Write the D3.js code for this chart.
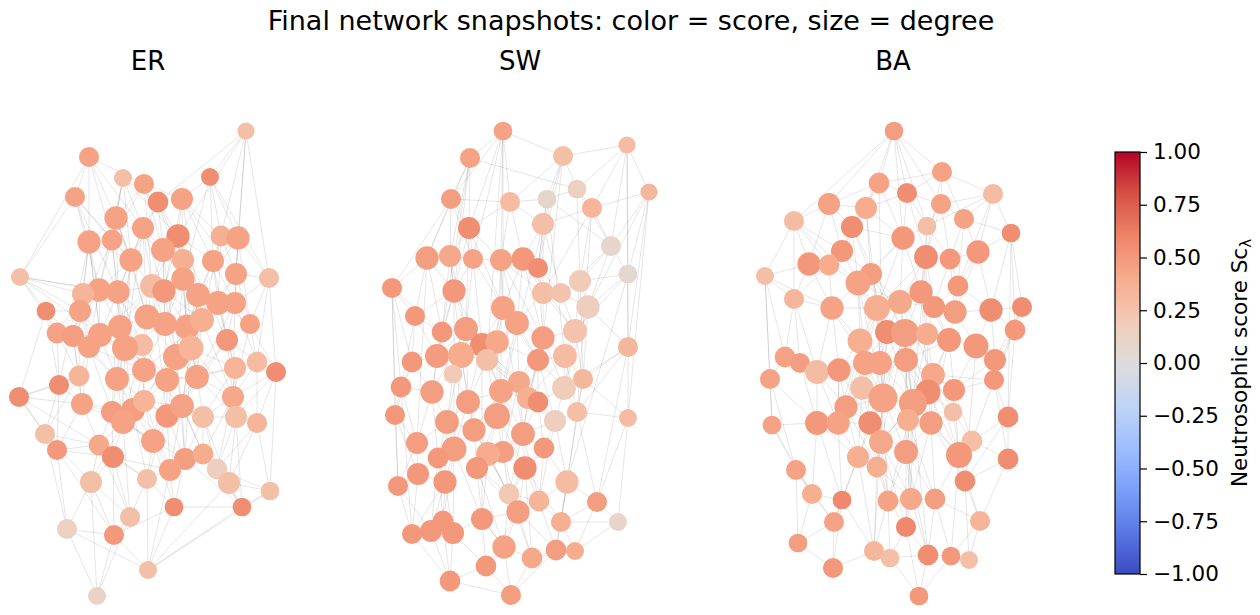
<!DOCTYPE html>
<html><head><meta charset="utf-8">
<script src="https://cdn.jsdelivr.net/npm/d3@7"></script>
<style>
html,body{margin:0;padding:0;background:#fff;}
svg{display:block;font-family:"DejaVu Sans",sans-serif;}
</style></head>
<body>
<svg id="chart" width="1260" height="615"></svg>
<script>
// ---------- DATA (layout coordinates per panel, score, degree) ----------
const panelNames = ["ER", "SW", "BA"];
const chartTitle = "Final network snapshots: color = score, size = degree";
const cbarTicks = [-1, -0.75, -0.5, -0.25, 0, 0.25, 0.5, 0.75, 1];
const cbarLabel = "Neutrosophic score Sc";
const cbarSub = "\u03bb";
const coolwarm = ["#3b4cc0","#5a78e4","#7b9ff9","#9ebeff","#c0d4f5","#dddcdc","#f2cbb7","#f7ac8e","#ee8468","#d65244","#b40426"];

// [x, y, score, degree]
const erNodes = [
[246,131,.28,6],[89,157,.45,10],[123,178,.28,7],[144,184,.45,10],[210,177,.55,7],[75,197,.45,10],
[158,202,.55,11],[182,199,.45,13],[116,218,.45,15],[143,228,.45,13],[89,242,.45,15],[112,240,.45,11],
[178,236,.55,15],[163,250,.45,16],[221,236,.38,11],[238,238,.45,15],[131,260,.45,15],[183,260,.38,13],
[213,261,.45,13],[236,274,.45,13],[269,278,.28,10],[20,277,.28,7],[183,279,.45,15],[152,286,.3,16],
[164,291,.5,15],[99,290,.45,15],[118,292,.45,15],[83,294,.35,13],[198,295,.45,16],[218,303,.45,16],
[235,303,.45,13],[46,311,.55,8],[80,311,.45,13],[147,317,.45,18],[165,324,.45,16],[187,327,.45,18],
[202,320,.38,16],[250,324,.45,10],[57,333,.45,11],[73,336,.47,13],[100,335,.45,16],[120,327,.45,16],
[142,345,.3,13],[89,347,.45,13],[125,348,.45,20],[176,357,.45,20],[191,348,.35,18],[227,340,.5,13],
[257,362,.3,11],[276,372,.55,10],[235,368,.35,13],[79,376,.35,11],[59,385,.55,10],[117,379,.45,16],
[144,370,.45,16],[167,380,.45,16],[197,377,.45,16],[19,397,.55,10],[82,404,.45,13],[233,397,.42,13],
[112,412,.47,13],[133,410,.47,16],[144,401,.35,13],[123,422,.45,16],[167,416,.5,15],[182,406,.45,16],
[203,417,.28,13],[236,417,.28,13],[257,423,.35,10],[45,434,.28,10],[57,450,.5,10],[99,445,.42,11],
[113,457,.55,13],[153,441,.45,16],[185,459,.47,13],[203,454,.4,11],[170,470,.45,13],[217,469,.16,11],
[229,483,.28,13],[270,491,.28,8],[91,482,.28,13],[147,479,.28,10],[174,507,.55,8],[242,507,.55,8],
[130,517,.28,10],[67,529,.14,10],[114,535,.5,10],[148,570,.28,7],[97,596,.12,7]
];
const swNodes = [
[128,131,.45,8],[95,158,.45,10],[188,156,.28,10],[252,145,.3,6],[76,199,.47,10],[135,202,.3,10],
[172,199,.08,8],[202,189,.14,8],[217,208,.35,10],[274,192,.33,6],[94,228,.55,13],[168,224,.28,13],
[236,246,.08,10],[52,258,.47,15],[75,256,.42,13],[98,259,.45,10],[126,260,.45,13],[148,259,.5,15],
[163,268,.55,10],[253,274,.06,8],[17,288,.5,10],[79,291,.5,15],[168,293,.28,13],[186,293,.25,10],
[205,281,.2,13],[213,307,.16,15],[40,316,.5,10],[128,308,.45,16],[142,323,.45,16],[200,331,.25,16],
[67,332,.5,11],[91,329,.47,16],[107,345,.55,16],[122,342,.42,15],[168,338,.47,15],[253,347,.33,10],
[37,362,.5,11],[62,356,.48,16],[86,355,.4,20],[112,360,.28,13],[163,360,.5,13],[190,356,.3,16],
[78,374,.2,8],[144,382,.42,13],[208,379,.33,10],[26,387,.5,11],[57,392,.47,15],[126,391,.45,16],
[189,388,.18,16],[153,398,.38,13],[93,402,.47,16],[163,402,.55,11],[20,415,.5,10],[122,416,.47,20],
[180,421,.16,13],[202,412,.28,10],[253,418,.3,7],[72,422,.47,16],[99,430,.47,15],[148,434,.47,16],
[42,443,.47,13],[79,449,.47,18],[128,452,.47,13],[113,454,.4,16],[169,448,.5,11],[63,458,.5,11],
[102,468,.5,13],[150,468,.55,15],[43,474,.5,13],[70,482,.5,15],[192,482,.3,15],[23,486,.5,10],
[134,494,.22,11],[164,501,.35,11],[222,502,.47,10],[143,512,.47,15],[107,519,.5,13],[186,522,.38,10],
[243,522,.1,7],[68,521,.5,11],[37,534,.5,10],[56,531,.5,13],[78,533,.5,13],[129,547,.45,15],
[181,550,.47,11],[200,551,.4,7],[157,558,.42,11],[111,566,.5,11],[75,581,.5,11],[136,595,.47,10]
];
const baNodes = [
[144,131,.47,8],[192,172,.45,10],[129,183,.45,11],[157,193,.55,10],[243,194,.3,10],[79,204,.45,13],
[116,208,.4,13],[191,204,.45,10],[44,221,.3,10],[102,227,.55,13],[177,226,.28,8],[214,219,.45,10],
[261,233,.55,8],[153,238,.5,15],[92,251,.5,13],[176,257,.55,16],[200,259,.5,11],[228,252,.5,15],
[59,264,.5,15],[79,265,.4,11],[15,276,.28,7],[121,274,.47,13],[108,283,.45,18],[171,292,.5,15],
[208,286,.5,11],[44,299,.33,10],[82,308,.45,15],[127,308,.38,20],[150,302,.42,16],[184,307,.5,13],
[205,312,.47,15],[241,310,.55,15],[272,307,.55,10],[137,332,.55,16],[155,333,.47,24],[177,334,.4,13],
[110,341,.38,18],[199,340,.5,16],[226,346,.5,18],[265,330,.5,11],[35,357,.45,11],[50,363,.47,10],
[115,363,.45,16],[130,363,.45,16],[156,360,.47,16],[245,360,.5,13],[67,372,.3,16],[89,370,.5,15],
[20,379,.45,10],[112,388,.28,15],[133,398,.45,26],[183,375,.42,16],[178,392,.55,18],[163,403,.47,24],
[204,390,.5,13],[244,380,.5,10],[96,407,.47,15],[203,412,.28,8],[22,425,.45,8],[67,423,.5,16],
[88,423,.45,15],[120,423,.55,15],[158,420,.38,13],[181,423,.47,15],[258,417,.55,11],[131,442,.42,16],
[222,441,.28,11],[156,452,.47,16],[209,455,.5,20],[108,457,.38,13],[127,467,.38,11],[258,459,.55,11],
[46,470,.45,10],[215,481,.55,11],[62,494,.38,10],[92,500,.58,8],[138,501,.45,11],[161,499,.42,13],
[185,499,.47,11],[230,521,.35,10],[84,522,.45,10],[156,527,.58,10],[48,543,.47,8],[124,551,.33,10],
[140,558,.28,8],[178,555,.55,11],[201,556,.5,8],[219,560,.28,7],[83,568,.5,10],[169,596,.5,8]
];

// adjacency: [node (1-based), [neighbours]]
const erLinks = [
[1,[7,16,20,21,5,13,15]],[2,[6,11,9,4,10,12,22]],[3,[9,7,10,13,17,26]],[4,[7,8,14,12,24]],
[5,[8,15,19,16,23,21]],[6,[11,12,26,22,17]],[7,[14,13,18,23,10]],[8,[13,19,15,29,25,20]],
[9,[12,17,27,14,11,34]],[10,[17,14,24,27,34,45]],[11,[26,28,33,17,41,53]],[12,[17,27,26,42]],
[13,[18,23,29,19,36,48]],[14,[24,25,18,35,23,46]],[15,[16,19,20,30,37]],[16,[20,21,31,19,38]],
[17,[27,24,42,34,45,54]],[18,[23,29,25,37,36,57]],[19,[20,29,30,31,48]],[20,[21,31,38,30]],
[21,[38,49,50,31]],[22,[26,28,32,33,39,27,41]],[23,[25,29,36,35,46,37]],[24,[25,34,27,35,42,65]],
[25,[35,36,34,46]],[26,[27,33,41,28,40,44]],[27,[42,41,34,45,61]],[28,[33,40,39,44]],
[29,[30,36,37,47,57,66]],[30,[31,37,48,38,51]],[31,[38,48,49,60]],[32,[39,40,33,53,58]],
[33,[40,44,39,52]],[34,[35,42,45,43,55]],[35,[36,46,47,55,56]],[36,[37,47,46,57,63]],
[37,[47,48,57,60]],[38,[48,49,50,60]],[39,[40,53,52,44]],[40,[44,41,52,59]],[41,[42,44,45,54]],
[42,[45,43,55,64]],[43,[45,55,56,63]],[44,[52,54,59,61]],[45,[54,55,62,64]],[46,[47,56,57,66,65]],
[47,[57,51,66,75]],[48,[51,49,60,57]],[49,[50,51,60,69]],[50,[69,60,68,80]],[51,[57,60,68,67]],
[52,[53,59,58,70]],[53,[58,59,70,71]],[54,[55,61,62,64]],[55,[56,63,62]],[56,[57,65,66,63]],
[57,[66,67,60]],[58,[70,59,71,72]],[59,[61,72,71,64]],[60,[68,67,69,76]],[61,[64,62,72,73]],
[62,[63,64,74,82]],[63,[65,74,66]],[64,[73,74,72,81]],[65,[66,74,77,75]],[66,[67,75,76]],
[67,[68,76,78,75]],[68,[69,78,79,84]],[69,[80,79,78]],[70,[71,81,86,72]],[71,[73,86,72,87]],
[72,[73,81,85]],[73,[81,87,85,82]],[74,[77,82,75,83]],[75,[77,76,83,84]],[76,[78,79,84]],
[77,[83,82,88]],[78,[79,84,80]],[79,[80,84,88]],[80,[84,88]],[81,[85,86,89,87]],[82,[85,88,83]],
[83,[87,88,84]],[84,[88]],[85,[87,89]],[86,[87,89,88]],[87,[89,88]],
[9,[17,4]],[10,[25]],[13,[24,25]],[14,[29]],[17,[26,7]],[18,[35]],[23,[34,8]],[24,[41]],[25,[37]],
[27,[43,28,6]],[29,[35,16]],[34,[46]],[35,[45]],[36,[56,19]],[41,[55,11,33]],[42,[54,26]],[43,[64]],
[45,[56]],[46,[62,75]],[54,[65,40]],[55,[66,44,37]],[56,[74,51]],[57,[65,31,68]],[62,[75,59]],[63,[77]],
[64,[74,85]],[65,[82]],[66,[77,48,76]],[12,[33,3]],[20,[37]],[30,[47]],[61,[74]],[47,[60]],[60,[78]],
[67,[79]],[73,[77]],[72,[82]]
];
const swLinks = [
[1,[2,5,11,16,17,6,3,28,40]],[2,[5,11,14,15,22,8,31]],[3,[4,7,12,6,19,8,35]],[4,[10,9,20,36,8,13]],
[5,[11,14,15,6,16,21]],[6,[7,12,17,11,18]],[7,[8,12,13,19,42]],[8,[9,13,25]],[9,[13,10,12,25,23,56]],
[10,[13,20,36,57,26]],[11,[15,16,22,28]],[12,[18,19,23,24,54]],[13,[20,25,26,24]],[14,[21,15,27,22,31,61]],
[15,[16,22,32,39]],[16,[17,22,28,32]],[17,[18,28,29,34,48]],[18,[19,23,29,35]],[19,[23,24,35]],
[20,[25,26,36,30,71]],[21,[27,46,37,53,31,72]],[22,[31,32,27,33,62]],[23,[24,35,30,29]],[24,[25,30,26]],
[25,[26,30,45]],[26,[30,36,49,45]],[27,[31,37,46,38]],[28,[29,34,33,40,60]],[29,[35,34,41,44]],
[30,[42,45,35,49]],[31,[38,32,47]],[32,[33,39,38,51]],[33,[34,40,39,48,77]],[34,[40,48,41]],
[35,[41,42,50]],[36,[45,57,56,49,75]],[37,[46,47,38,53]],[38,[39,47,43]],[39,[40,43,51,58]],
[40,[48,44,51]],[41,[42,44,52,50,73]],[42,[49,45,50,56]],[43,[47,51,58]],[44,[50,48,52,60]],
[45,[49,56,57,78]],[46,[47,53,61,81]],[47,[58,61,66]],[48,[54,51,63,50]],[49,[55,56,52]],
[50,[52,60,55]],[51,[54,59,58]],[52,[55,60,65]],[53,[61,72,69]],[54,[59,63,64,60]],[55,[56,65,71,74]],
[56,[57,71,75]],[57,[75,79]],[58,[62,66,59]],[59,[62,64,67]],[60,[63,65,68]],[61,[69,66,72]],
[62,[66,67,70,80]],[63,[64,67,73]],[64,[67,77,73]],[65,[68,74,71]],[66,[70,69,80]],[67,[77,76,73]],
[68,[74,73,76,87]],[69,[72,70,81]],[70,[80,82,83]],[71,[74,78,75]],[72,[81,82]],[73,[76,74,84]],
[74,[78,85]],[75,[79,78,86]],[76,[84,87,77]],[77,[83,88,84]],[78,[85,86,79]],[79,[86]],[80,[83,82,89]],
[81,[82,89]],[82,[83,89]],[83,[88,89]],[84,[87,90,88]],[85,[86,87,90]],[86,[87]],[87,[90]],[88,[89,90]],[89,[90]],
[11,[17,32]],[15,[31]],[16,[33]],[17,[35,23]],[18,[28,30]],[22,[38]],[28,[41,35]],[29,[48,40]],
[32,[47,34]],[33,[44,51]],[34,[54,39]],[35,[44,49]],[39,[62,59]],[40,[54,50]],[41,[55,49]],[44,[54,63]],
[48,[60,59]],[51,[64,62]],[54,[68,67]],[55,[60]],[58,[70,61]],[59,[76]],[60,[74]],[62,[77,83]],
[63,[76,68]],[64,[76]],[65,[73]],[67,[84]],[68,[78]],[70,[81]],[73,[87]],[76,[88,85]],[77,[84]],
[66,[82]],[71,[85]]
];
const baLinks = [
[1,[3,4,6,9,14,8,2,11,7]],[2,[4,8,12,5,3,16]],[3,[6,7,10,4,14,51]],[4,[8,11,14,16,7]],
[5,[12,13,18,8,25,11]],[6,[9,10,15,19,7]],[7,[10,14,22,15,28]],[8,[11,12,17,16]],[9,[19,21,20,26,15,23]],
[10,[15,22,23,14,35]],[11,[16,17,14,24]],[12,[17,18,13,25]],[13,[18,33,32,40,65]],[14,[22,24,16,29]],
[15,[19,20,23,22]],[16,[17,24,29,30,54]],[17,[18,25,30,31]],[18,[25,32,31]],[19,[20,21,26,27]],
[20,[27,23,26]],[21,[26,41,49,27,59]],[22,[23,28,29]],[23,[27,28,37,29,51]],[24,[29,30,36,35]],
[25,[31,32,30]],[26,[27,41,42,47]],[27,[37,47,48,28]],[28,[29,34,37,44,57]],[29,[34,35,36,45]],
[30,[31,36,38]],[31,[32,38,39]],[32,[33,39,40,46]],[33,[40,46,56]],[34,[35,44,43,51]],
[35,[36,45,44,54,62,68,86]],[36,[38,45,53]],[37,[43,48,50,61]],[38,[39,52,53,55]],[39,[46,55,56,74]],
[40,[46,56,65]],[41,[42,49,47]],[42,[47,48,60]],[43,[44,50,48]],[44,[51,45,57]],[45,[54,52,53]],
[46,[56,55]],[47,[48,60,61]],[48,[57,61]],[49,[59,60,73]],[50,[51,57,62]],[51,[54,62,66,70,84,77]],
[52,[53,55,58,64]],[53,[54,64,58]],[54,[63,68,66,69,78,82]],[55,[58,56,67]],[56,[65,67,72]],
[57,[61,62,70]],[58,[64,67,69]],[59,[60,73,75]],[60,[61,75,70]],[61,[70,76,62]],[62,[66,71,70]],
[63,[64,68,66]],[64,[69,68,79]],[65,[72,67,74]],[66,[71,68,77]],[67,[69,74,72]],[68,[78,77,82]],
[69,[74,79,80]],[70,[71,76,81]],[71,[77,84]],[72,[74,80]],[73,[75,83,81]],[74,[80,88]],[75,[81,76,83]],
[76,[81,84,89]],[77,[78,84,85]],[78,[79,82,86]],[79,[86,87,80]],[80,[88,87]],[81,[89,83]],
[82,[85,86,90]],[83,[89]],[84,[85,89]],[85,[90,86]],[86,[87,90]],[87,[88,90]],
[14,[23,28]],[16,[28,36]],[22,[34,35]],[23,[43,34]],[24,[38,53]],[28,[35,51,43]],[29,[30,52]],
[34,[50,54,51]],[35,[53,51,63,66]],[36,[52,54]],[37,[57,44]],[38,[45,64]],[43,[57,62,51]],[44,[54,62]],
[45,[63,64]],[48,[61,62]],[50,[61,70]],[51,[63,68,71,57]],[52,[56,69]],[53,[63,69]],[54,[64,66,77]],
[55,[69]],[57,[71]],[60,[76]],[62,[68,77]],[63,[78,79]],[64,[78,74]],[66,[78,82]],[68,[79,86]],
[69,[87]],[70,[84]],[71,[78]],[77,[82]],[47,[57]],[27,[43]]
];

// ---------- RENDER ----------
const svg = d3.select("#chart");

const color = d3.scaleLinear()
  .domain(d3.range(coolwarm.length).map(i => -1 + 2 * i / (coolwarm.length - 1)))
  .range(coolwarm).interpolate(d3.interpolateRgb).clamp(true);
const rScale = d3.scaleSqrt().domain([0, 35]).range([0, Math.sqrt(6.76 * 35)]);

const panels = [
  {name: panelNames[0], nodes: erNodes, links: erLinks, left: 0,   cx: 148},
  {name: panelNames[1], nodes: swNodes, links: swLinks, left: 375, cx: 520},
  {name: panelNames[2], nodes: baNodes, links: baLinks, left: 750, cx: 893}
];

svg.append("text").attr("x", 631).attr("y", 30).attr("text-anchor", "middle")
  .attr("font-size", 27).attr("fill", "#000").text(chartTitle);

panels.forEach(p => {
  const x = d3.scaleLinear().domain([0, 290]).range([p.left, p.left + 290]);
  const y = d3.scaleLinear().domain([100, 610]).range([100, 610]);
  const g = svg.append("g");
  g.append("text").attr("x", p.cx).attr("y", 69.5).attr("text-anchor", "middle")
    .attr("font-size", 26).attr("fill", "#000").text(p.name);

  const edges = [];
  p.links.forEach(([a, nb]) => nb.forEach(b => edges.push([a - 1, b - 1])));
  g.append("g").selectAll("line").data(edges).join("line")
    .attr("x1", d => x(p.nodes[d[0]][0])).attr("y1", d => y(p.nodes[d[0]][1]))
    .attr("x2", d => x(p.nodes[d[1]][0])).attr("y2", d => y(p.nodes[d[1]][1]))
    .attr("stroke", "#000").attr("stroke-opacity", 0.1).attr("stroke-width", 1);

  g.append("g").selectAll("circle").data(p.nodes).join("circle")
    .attr("cx", d => x(d[0])).attr("cy", d => y(d[1]))
    .attr("r", d => rScale(d[3] + 5))
    .attr("fill", d => color(d[2]));
});

// colorbar
const cb = {x: 1115, y: 152, w: 25, h: 422};
const cy = d3.scaleLinear().domain([-1, 1]).range([cb.y + cb.h, cb.y]);
const defs = svg.append("defs");
const grad = defs.append("linearGradient").attr("id", "cbgrad")
  .attr("x1", 0).attr("y1", 1).attr("x2", 0).attr("y2", 0);
d3.range(0, 1.0001, 0.05).forEach(t => {
  grad.append("stop").attr("offset", t).attr("stop-color", color(-1 + 2 * t));
});
svg.append("rect").attr("x", cb.x).attr("y", cb.y).attr("width", cb.w).attr("height", cb.h)
  .attr("fill", "url(#cbgrad)").attr("stroke", "#000").attr("stroke-width", 1.2);
const axis = d3.axisRight(cy).tickValues(cbarTicks).tickSize(7).tickPadding(6)
  .tickFormat(v => d3.format(".2f")(v).replace("-", "\u2212"));
const ax = svg.append("g").attr("transform", `translate(${cb.x + cb.w},0)`).call(axis);
ax.select(".domain").remove();
ax.selectAll("line").attr("stroke", "#000").attr("stroke-width", 1.2);
ax.selectAll("text").attr("font-size", 21.5).attr("fill", "#000")
  .attr("font-family", "DejaVu Sans, sans-serif");

const lab = svg.append("text")
  .attr("transform", `translate(1247,${cb.y + cb.h / 2}) rotate(-90)`)
  .attr("text-anchor", "middle").attr("font-size", 21.5).attr("fill", "#000");
lab.append("tspan").text(cbarLabel);
lab.append("tspan").attr("font-size", 15).attr("dy", 4).text(cbarSub);
</script>
</body></html>
